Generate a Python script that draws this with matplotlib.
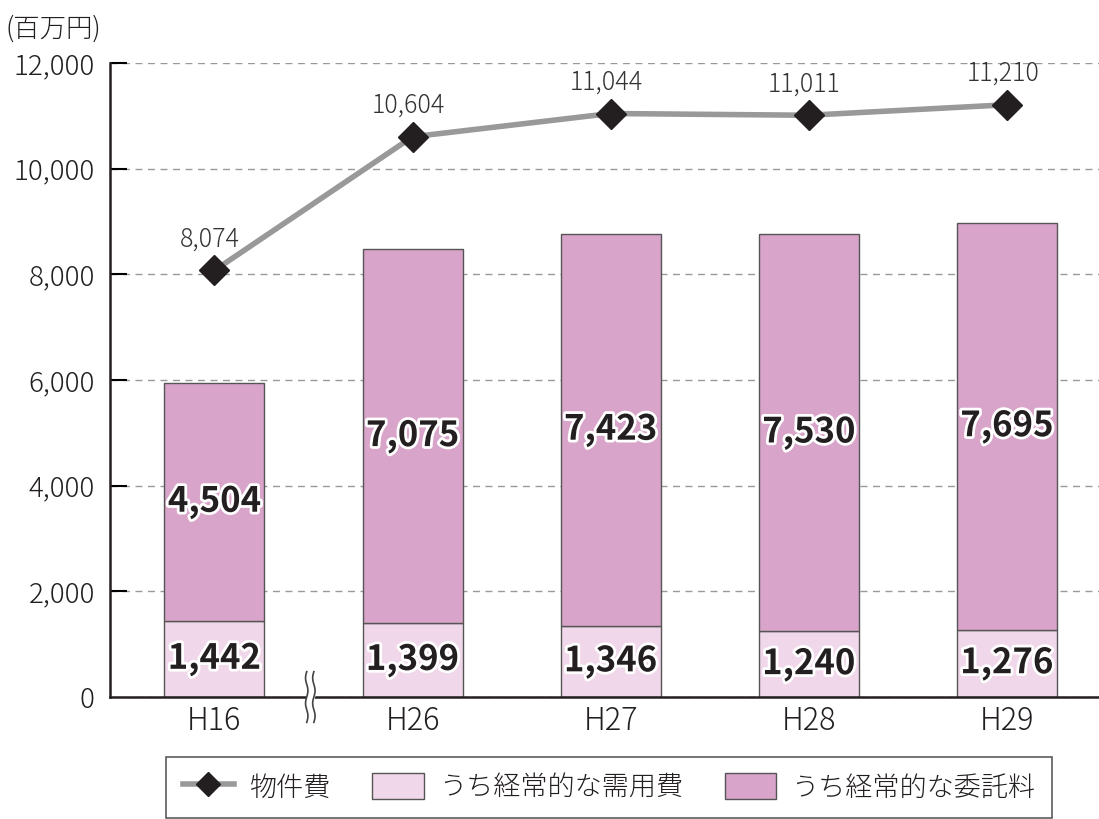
import numpy as np
import matplotlib.pyplot as plt
import matplotlib.patheffects as pe
from matplotlib.lines import Line2D
from matplotlib.patches import Patch
import matplotlib.transforms as mtransforms

plt.rcParams['font.family'] = ['Noto Sans CJK JP', 'DejaVu Sans']

years = ["H16", "H26", "H27", "H28", "H29"]
supplies = [1442, 1399, 1346, 1240, 1276]      # うち経常的な需用費
outsourcing = [4504, 7075, 7423, 7530, 7695]   # うち経常的な委託料
total = [8074, 10604, 11044, 11011, 11210]     # 物件費

yticks = [0, 2000, 4000, 6000, 8000, 10000, 12000]
ytick_labels = ["0", "2,000", "4,000", "6,000", "8,000", "10,000", "12,000"]

LOW_COLOR = "#F0D8EA"
HIGH_COLOR = "#D8A4C9"
LINE_COLOR = "#999999"
TEXT_COLOR = "#231F20"

fig = plt.figure(figsize=(10.99, 8.19), dpi=100)
ax = fig.add_axes([110 / 1099, 1 - 697 / 819, 1 - 110 / 1099, (697 - 63) / 819])

x = np.arange(len(years))
ax.bar(x, supplies, width=0.505, color=LOW_COLOR, edgecolor="#555555", linewidth=1.0, zorder=2)
ax.bar(x, outsourcing, width=0.505, bottom=supplies, color=HIGH_COLOR,
       edgecolor="#555555", linewidth=1.0, zorder=2)
ax.plot(x, total, color=LINE_COLOR, linewidth=4, marker="D", markersize=15,
        markerfacecolor=TEXT_COLOR, markeredgecolor=TEXT_COLOR, zorder=4)

stroke = [pe.withStroke(linewidth=4, foreground="white")]
for i in range(len(years)):
    ax.text(x[i], supplies[i] / 2, f"{supplies[i]:,}", ha="center", va="center",
            fontsize=25, fontweight="bold", color=TEXT_COLOR, path_effects=stroke, zorder=5)
    ax.text(x[i], supplies[i] + outsourcing[i] / 2, f"{outsourcing[i]:,}", ha="center",
            va="center", fontsize=25, fontweight="bold", color=TEXT_COLOR,
            path_effects=stroke, zorder=5)
    ax.annotate(f"{total[i]:,}", (x[i], total[i]), xytext=(-3, 13), textcoords="offset points",
                ha="center", va="bottom", fontsize=18, fontweight="light",
                color="#333333", zorder=5)

ax.set_xlim(-0.527, 4.465)
ax.set_ylim(0, 12000)
ax.set_xticks(x)
ax.set_xticklabels(years, fontsize=22, color=TEXT_COLOR, fontweight="light")
ax.set_yticks(yticks)
ax.set_yticklabels(ytick_labels, fontsize=20, color=TEXT_COLOR, fontweight="light")
ax.tick_params(axis="y", direction="in", length=12, width=1.5, pad=11)
ax.tick_params(axis="x", length=0, pad=6)
ax.yaxis.get_major_ticks()[0].tick1line.set_visible(False)

ax.grid(axis="y", linestyle=(0, (5, 4)), color="#999999", linewidth=1, zorder=0)
ax.set_axisbelow(True)
for s in ["top", "right"]:
    ax.spines[s].set_visible(False)
for s in ["left", "bottom"]:
    ax.spines[s].set_linewidth(1.8)
    ax.spines[s].set_color(TEXT_COLOR)

# axis break marks between H16 and H26
trans = mtransforms.blended_transform_factory(ax.transData, ax.transAxes)
t = np.linspace(-0.04, 0.04, 60)
wave = 0.006 * np.sin(t / 0.04 * 2 * np.pi)
ax.fill_betweenx(t, 0.466 + wave, 0.502 + wave, color="white", transform=trans,
                 clip_on=False, zorder=6)
for x0 in (0.466, 0.502):
    ax.plot(x0 + wave, t, color="#444444", linewidth=1.2, transform=trans,
            clip_on=False, zorder=7)

fig.text(6 / 1099, 1 - 29 / 819, "(百万円)", fontsize=19, color=TEXT_COLOR, va="center",
         ha="left", fontweight="light")

handles = [
    Line2D([0], [0], color=LINE_COLOR, linewidth=4, marker="D", markersize=12,
           markerfacecolor=TEXT_COLOR, markeredgecolor=TEXT_COLOR),
    Patch(facecolor=LOW_COLOR, edgecolor="#555555", linewidth=1.0),
    Patch(facecolor=HIGH_COLOR, edgecolor="#555555", linewidth=1.0),
]
labels = ["物件費", "うち経常的な需用費", "うち経常的な委託料"]
leg = fig.legend(handles, labels, loc="upper center", bbox_to_anchor=(609 / 1099, 1 - 757 / 819),
                 ncol=3, fontsize=19.5, frameon=True, fancybox=False, edgecolor="#333333",
                 handlelength=1.9, handleheight=1.1, columnspacing=1.55, handletextpad=0.55,
                 borderpad=0.6, borderaxespad=0,
                 prop={"size": 19.5, "weight": "light"})
leg.get_frame().set_linewidth(1.2)
for txt in leg.get_texts():
    txt.set_color(TEXT_COLOR)

fig.savefig("out.png", dpi=100)
